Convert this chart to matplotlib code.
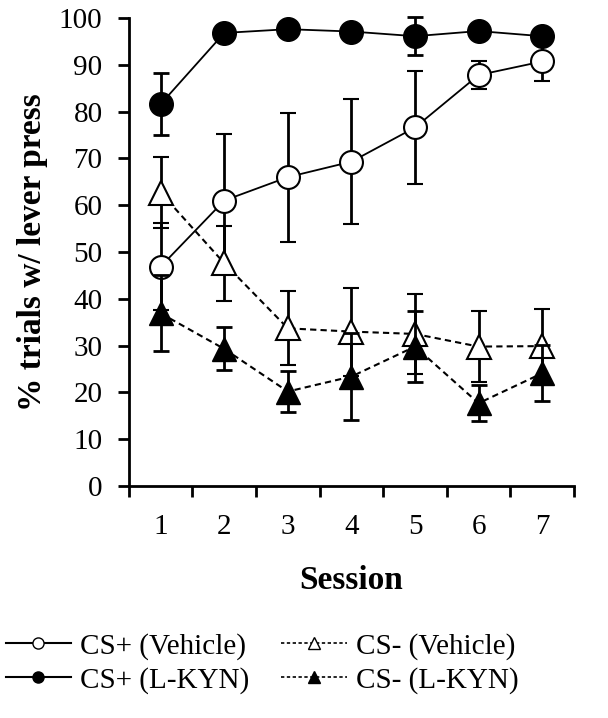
import matplotlib.pyplot as plt
from matplotlib.lines import Line2D

plt.rcParams['font.family'] = ['Liberation Serif', 'DejaVu Serif']

sessions = [1, 2, 3, 4, 5, 6, 7]

csp_veh = [46.9, 61.0, 66.0, 69.3, 76.6, 87.8, 90.7]
csp_veh_err = [9.3, 14.2, 13.8, 13.4, 12.0, 3.0, 4.2]

csm_veh = [62.7, 47.6, 33.7, 33.0, 32.5, 29.8, 29.9]
csm_veh_err = [7.6, 8.0, 7.9, 9.4, 8.5, 7.6, 8.0]

csp_kyn = [81.6, 96.8, 97.6, 97.1, 96.1, 97.2, 96.1]
csp_kyn_err = [6.6, 1.0, 1.0, 1.2, 4.1, 1.0, 1.0]

csm_kyn = [36.9, 29.3, 20.2, 23.4, 29.8, 17.7, 24.1]
csm_kyn_err = [8.1, 4.6, 4.3, 9.3, 7.5, 3.9, 6.0]

fig = plt.figure(figsize=(6.08, 7.18), dpi=100)
ax = fig.add_axes([0.212, 0.323, 0.732, 0.652])

eb = dict(ecolor='black', elinewidth=2, capsize=6, capthick=2, clip_on=False)
dash = (0, (3, 2))

ax.errorbar(sessions, csp_veh, yerr=csp_veh_err, color='black', lw=1.3,
            marker='o', ms=16.5, mfc='white', mec='black', mew=1.5, zorder=3, **eb)
ax.errorbar(sessions, csm_veh, yerr=csm_veh_err, color='black', lw=1.5, ls=dash,
            marker='^', ms=17, mfc='white', mec='black', mew=1.5, zorder=4, **eb)
ax.errorbar(sessions, csp_kyn, yerr=csp_kyn_err, color='black', lw=1.3,
            marker='o', ms=17, mfc='black', mec='black', zorder=5, **eb)
ax.errorbar(sessions, csm_kyn, yerr=csm_kyn_err, color='black', lw=1.5, ls=dash,
            marker='^', ms=17, mfc='black', mec='black', zorder=6, **eb)

ax.set_xlim(0.5, 7.5)
ax.set_ylim(0, 100)
ax.set_yticks(range(0, 101, 10))
ax.set_xticks(sessions)
ax.set_xticks([s - 0.5 for s in sessions] + [7.5], minor=True)
ax.tick_params(axis='x', which='major', length=0, pad=20, labelsize=21)
ax.tick_params(axis='x', which='minor', length=8, width=2, direction='out')
ax.tick_params(axis='y', length=8, width=2, direction='out', pad=11, labelsize=21)
for s in ['top', 'right']:
    ax.spines[s].set_visible(False)
for s in ['left', 'bottom']:
    ax.spines[s].set_linewidth(2)

ax.set_xlabel('Session', fontsize=24, fontweight='bold', labelpad=18)
ax.set_ylabel('% trials w/ lever press', fontsize=24, fontweight='bold', labelpad=8)

handles = [
    Line2D([], [], color='black', lw=1.5, marker='o', ms=8, mfc='white', mec='black'),
    Line2D([], [], color='black', lw=1.5, marker='o', ms=8, mfc='black', mec='black'),
    Line2D([], [], color='black', lw=1.2, ls=(0, (2, 1.5)), marker='^', ms=8, mfc='white', mec='black'),
    Line2D([], [], color='black', lw=1.2, ls=(0, (2, 1.5)), marker='^', ms=8, mfc='black', mec='black'),
]
labels = ['CS+ (Vehicle)', 'CS+ (L-KYN)', 'CS- (Vehicle)', 'CS- (L-KYN)']
fig.legend(handles, labels, ncol=2, loc='upper left', bbox_to_anchor=(-0.01, 0.135),
           frameon=False, fontsize=21, handlelength=2.25, handletextpad=0.3,
           columnspacing=1.1, labelspacing=0.25, borderaxespad=0)

fig.savefig('out.png', dpi=100)
